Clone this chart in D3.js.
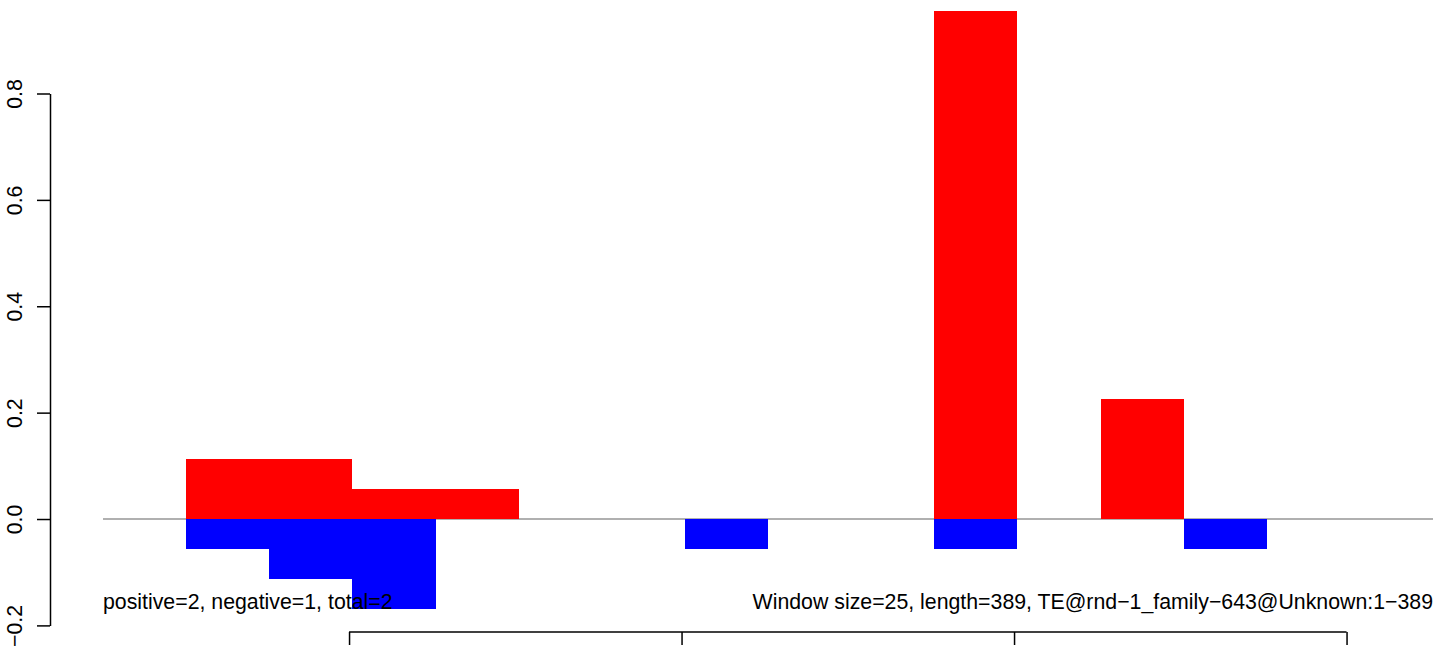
<!DOCTYPE html>
<html>
<head>
<meta charset="utf-8">
<script src="https://cdn.jsdelivr.net/npm/d3@7/dist/d3.min.js"></script>
<style>
  html, body { margin: 0; padding: 0; background: #fff; }
  svg { display: block; }
  text { font-family: "Liberation Sans", Arial, Helvetica, sans-serif; }
</style>
</head>
<body>
<script>
// ---- data ----
const windowSize = 25;
const seqLength = 389;
const binStarts = [1, 26, 51, 76, 101, 126, 151, 176, 201, 226, 251, 276, 301, 326, 351, 376];
const positiveValues = [0.112, 0.112, 0.056, 0.056, 0, 0, 0, 0, 0, 0.955, 0, 0.225, 0, 0, 0, 0];
const negativeValues = [-0.0564, -0.1128, -0.169, 0, 0, 0, -0.0564, 0, 0, -0.0564, 0, 0, -0.0564, 0, 0, 0];
const yTicks = [-0.2, 0.0, 0.2, 0.4, 0.6, 0.8];
const xTicks = [50, 150, 250, 350];
const xLimits = [-24, 376];
const yLimits = [-0.2, 0.8];
const leftLabel = "positive=2, negative=1, total=2";
const rightLabel = "Window size=25, length=389, TE@rnd\u22121_family\u2212643@Unknown:1\u2212389";

// ---- layout ----
const W = 1444, H = 651;
const svg = d3.select("body").append("svg").attr("width", W).attr("height", H);

const x = d3.scaleLinear().domain(xLimits).range([103, 1433]);
const y = d3.scaleLinear().domain(yLimits).range([625.4, 93.5]);

const fontSize = 21.3;

// zero line
svg.append("line")
  .attr("x1", x(xLimits[0])).attr("x2", x(xLimits[1]))
  .attr("y1", y(0)).attr("y2", y(0))
  .attr("stroke", "#969696").attr("stroke-width", 1.3);

// bars
const bins = binStarts.map((s, i) => ({ s, pos: positiveValues[i], neg: negativeValues[i] }));
svg.append("g").attr("shape-rendering", "crispEdges").selectAll("rect")
  .data(bins.filter(d => d.pos > 0)).join("rect")
  .attr("x", d => x(d.s)).attr("width", d => x(d.s + windowSize) - x(d.s))
  .attr("y", d => y(d.pos)).attr("height", d => y(0) - y(d.pos))
  .attr("fill", "#FF0000");
svg.append("g").attr("shape-rendering", "crispEdges").selectAll("rect")
  .data(bins.filter(d => d.neg < 0)).join("rect")
  .attr("x", d => x(d.s)).attr("width", d => x(d.s + windowSize) - x(d.s))
  .attr("y", y(0)).attr("height", d => y(d.neg) - y(0))
  .attr("fill", "#0000FF");

// y axis
const yAxis = svg.append("g").attr("transform", "translate(50,0)")
  .call(d3.axisLeft(y).tickValues(yTicks).tickSize(13).tickSizeOuter(0).tickFormat(d3.format(".1f")));
yAxis.select(".domain").attr("stroke", "#000").attr("stroke-width", 1.5);
yAxis.selectAll(".tick line").attr("stroke", "#000").attr("stroke-width", 1.5);
yAxis.selectAll(".tick text")
  .attr("x", null).attr("dy", null)
  .attr("transform", "translate(-28,0) rotate(-90)")
  .attr("text-anchor", "middle")
  .attr("fill", "#000")
  .style("font-size", fontSize + "px");

// x axis (labels fall below the visible area)
const xAxis = svg.append("g").attr("transform", "translate(0,632)")
  .call(d3.axisBottom(x).tickValues(xTicks).tickSize(13).tickSizeOuter(0).tickFormat(""));
xAxis.select(".domain").remove();
xAxis.append("line")
  .attr("x1", x(xTicks[0])).attr("x2", x(xTicks[xTicks.length - 1]))
  .attr("y1", 0).attr("y2", 0)
  .attr("stroke", "#000").attr("stroke-width", 1.5);
xAxis.selectAll(".tick line").attr("stroke", "#000").attr("stroke-width", 1.5);

// annotations
const negMin = d3.min(negativeValues);
svg.append("text")
  .attr("x", x(xLimits[0])).attr("y", y(negMin))
  .attr("text-anchor", "start")
  .style("font-size", fontSize + "px")
  .text(leftLabel);
svg.append("text")
  .attr("x", x(xLimits[1])).attr("y", y(negMin))
  .attr("text-anchor", "end")
  .style("font-size", fontSize + "px")
  .text(rightLabel);
</script>
</body>
</html>
